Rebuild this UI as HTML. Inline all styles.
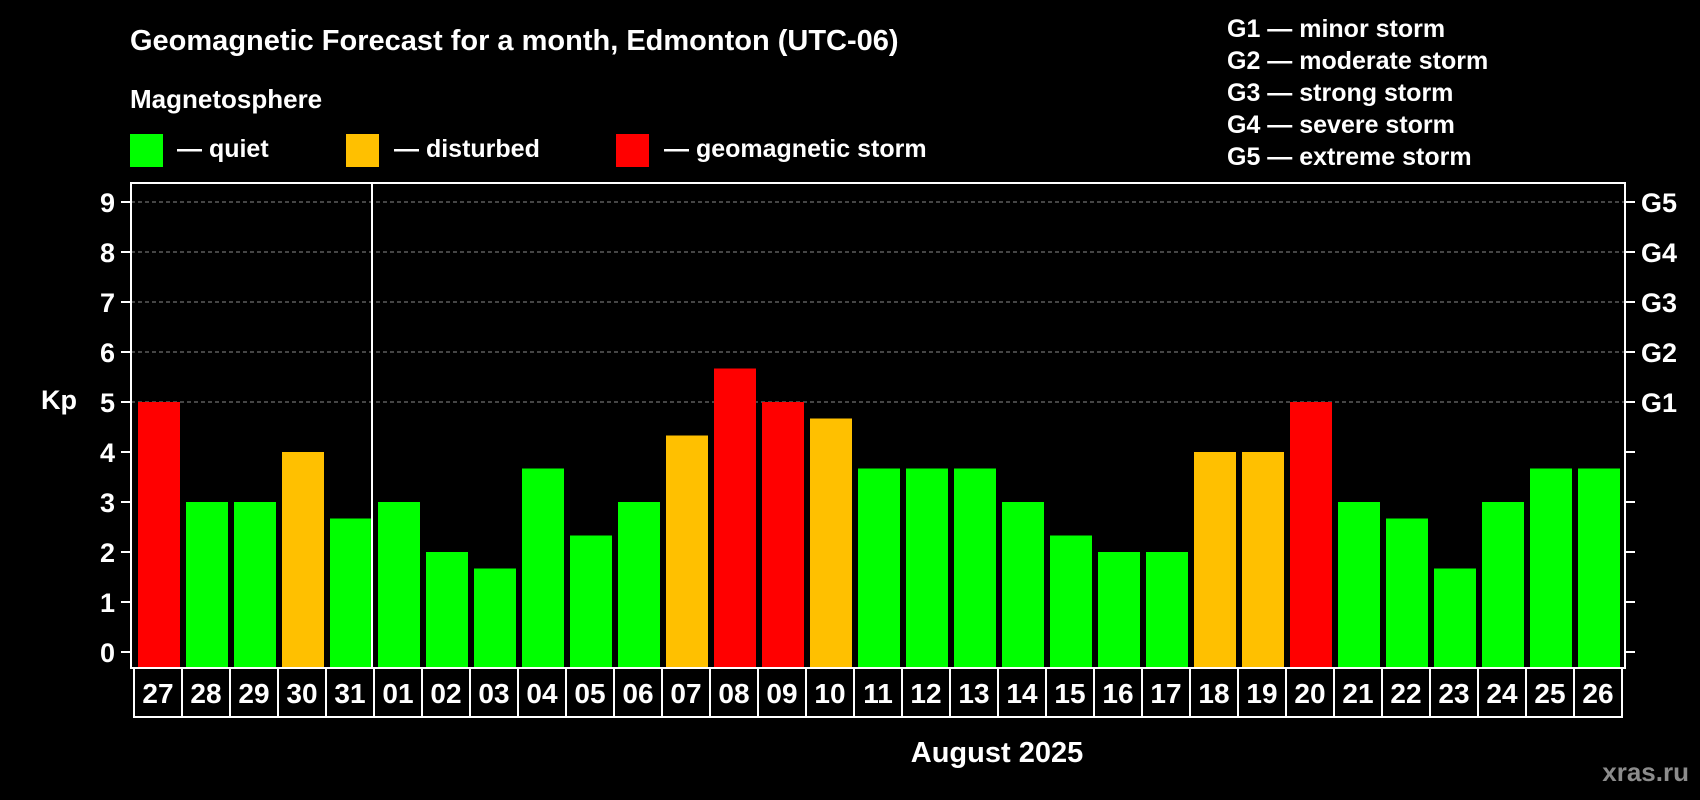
<!DOCTYPE html>
<html><head><meta charset="utf-8"><style>
html,body{margin:0;padding:0;background:#000;width:1700px;height:800px;overflow:hidden}
svg{display:block;font-family:"Liberation Sans",Arial,sans-serif;font-weight:bold}
</style></head><body>
<svg id="chart" width="1700" height="800" viewBox="0 0 1700 800" xmlns="http://www.w3.org/2000/svg">
<rect width="1700" height="800" fill="#000"/>
<text x="130" y="50" fill="#fff" font-size="29">Geomagnetic Forecast for a month, Edmonton (UTC-06)</text>
<text x="130" y="108" fill="#fff" font-size="26">Magnetosphere</text>
<rect x="130" y="134" width="33" height="33" fill="#00ff00"/>
<text x="177" y="157" fill="#fff" font-size="25">— quiet</text>
<rect x="346" y="134" width="33" height="33" fill="#ffc000"/>
<text x="394" y="157" fill="#fff" font-size="25">— disturbed</text>
<rect x="616" y="134" width="33" height="33" fill="#ff0000"/>
<text x="664" y="157" fill="#fff" font-size="25">— geomagnetic storm</text>
<g fill="#fff" font-size="25">
<text x="1227" y="37">G1 — minor storm</text>
<text x="1227" y="69">G2 — moderate storm</text>
<text x="1227" y="101">G3 — strong storm</text>
<text x="1227" y="133">G4 — severe storm</text>
<text x="1227" y="165">G5 — extreme storm</text>
</g>
<text x="41" y="409" fill="#fff" font-size="27">Kp</text>
<text x="997" y="762" fill="#fff" font-size="29" text-anchor="middle">August 2025</text>
<text x="1689" y="781" fill="#8c8c8c" font-size="26" text-anchor="end">xras.ru</text>
<g id="plot"></g>
</svg>
<script>
const days = ["27","28","29","30","31","01","02","03","04","05","06","07","08","09","10","11","12","13","14","15","16","17","18","19","20","21","22","23","24","25","26"];
const kpValues = [5,3,3,4,2.67,3,2,1.67,3.67,2.33,3,4.33,5.67,5,4.67,3.67,3.67,3.67,3,2.33,2,2,4,4,5,3,2.67,1.67,3,3.67,3.67];
const yTicks = [0,1,2,3,4,5,6,7,8,9];
const gLabels = ["","","","","","G1","G2","G3","G4","G5"];

const NS="http://www.w3.org/2000/svg";
const g=document.getElementById('plot');
const L=131,R=1625,T=183,B=668,Y0=652,UNIT=50,X0=134,STEP=48;
const y=v=>Y0-v*UNIT;
const x=i=>X0+i*STEP;
function mk(t,a){const e=document.createElementNS(NS,t);for(const k in a)e.setAttribute(k,a[k]);g.appendChild(e);return e;}
function color(v){return v>=5?"#ff0000":(v>=4?"#ffc000":"#00ff00");}

yTicks.forEach((t,i)=>{
  if(t>=5){
    const gl=mk('line',{x1:L,x2:R,y1:y(t),y2:y(t),stroke:"#8a8a8a","stroke-width":1,"stroke-dasharray":"4,3"});
    
    
  }
  const lt=mk('line',{x1:121,x2:L,y1:y(t),y2:y(t),stroke:"#fff","stroke-width":2});
  
  
  const rt=mk('line',{x1:R,x2:1635,y1:y(t),y2:y(t),stroke:"#fff","stroke-width":2});
  
  
  const tl=mk('text',{x:115,y:y(t)+10,fill:"#fff","font-size":27,"text-anchor":"end"});
  tl.textContent=t;
  
  
  if(gLabels[i]){
    const gt=mk('text',{x:1641,y:y(t)+10,fill:"#fff","font-size":27});
    gt.textContent=gLabels[i];
    
    
  }
});

kpValues.forEach((v,i)=>{
  const b=mk('rect',{x:x(i)+4,y:y(v),width:42,height:B-y(v),fill:color(v)});
  
  
  const c=mk('rect',{x:x(i),y:B,width:STEP,height:49,fill:"none",stroke:"#fff","stroke-width":2});
  
  
  const tx=mk('text',{x:x(i)+STEP/2,y:B+35,fill:"#fff","font-size":28,"text-anchor":"middle"});
  tx.textContent=days[i];
  
  
});

const fr=mk('rect',{x:L,y:T,width:R-L,height:B-T,fill:"none",stroke:"#fff","stroke-width":2});


const mi=days.indexOf("01");
const dv=mk('line',{x1:x(mi)-2,x2:x(mi)-2,y1:T,y2:B,stroke:"#fff","stroke-width":2});


</script>
</body></html>
